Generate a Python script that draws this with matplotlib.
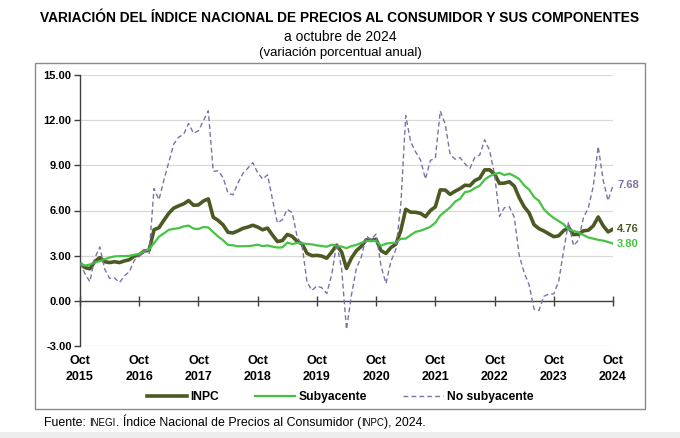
import matplotlib.pyplot as plt
from matplotlib.patches import Rectangle
from matplotlib.lines import Line2D
from matplotlib.offsetbox import TextArea, HPacker, AnchoredOffsetbox

plt.rcParams['font.family'] = ['Liberation Sans', 'DejaVu Sans']

# --- data: monthly annual % change, Oct 2015 .. Oct 2024 ---
years = ['2015', '2016', '2017', '2018', '2019', '2020', '2021', '2022', '2023', '2024']

inpc = [2.48, 2.21, 2.13,
        2.61, 2.87, 2.60, 2.54, 2.60, 2.54, 2.65, 2.73, 2.97, 3.06, 3.31, 3.36,
        4.72, 4.86, 5.35, 5.82, 6.16, 6.31, 6.44, 6.66, 6.35, 6.37, 6.63, 6.77,
        5.55, 5.34, 5.04, 4.55, 4.51, 4.65, 4.81, 4.90, 5.02, 4.90, 4.72, 4.83,
        4.37, 3.94, 4.00, 4.41, 4.28, 3.95, 3.78, 3.16, 3.00, 3.02, 2.97, 2.83,
        3.24, 3.70, 3.25, 2.15, 2.84, 3.33, 3.62, 4.05, 4.01, 4.09, 3.33, 3.15,
        3.54, 3.76, 4.67, 6.08, 5.89, 5.88, 5.81, 5.59, 6.00, 6.24, 7.37, 7.36,
        7.07, 7.28, 7.45, 7.68, 7.65, 7.99, 8.15, 8.70, 8.70, 8.41, 7.80, 7.82,
        7.91, 7.62, 6.85, 6.25, 5.84, 5.06, 4.79, 4.64, 4.45, 4.26, 4.32, 4.66,
        4.88, 4.40, 4.42, 4.65, 4.69, 4.98, 5.57, 4.99, 4.58, 4.76]

subyacente = [2.47, 2.34, 2.41,
              2.54, 2.64, 2.76, 2.88, 2.95, 2.97, 2.97, 2.99, 3.06, 3.10, 3.29, 3.44,
              3.83, 4.26, 4.48, 4.72, 4.78, 4.83, 4.94, 5.00, 4.80, 4.77, 4.90, 4.87,
              4.56, 4.27, 4.02, 3.71, 3.69, 3.62, 3.63, 3.63, 3.67, 3.73, 3.63, 3.68,
              3.60, 3.54, 3.55, 3.87, 3.77, 3.85, 3.82, 3.78, 3.75, 3.68, 3.65, 3.59,
              3.73, 3.66, 3.60, 3.50, 3.64, 3.71, 3.85, 3.97, 3.99, 3.98, 3.66, 3.80,
              3.84, 3.87, 4.12, 4.13, 4.37, 4.58, 4.66, 4.78, 4.92, 5.19, 5.67, 5.94,
              6.21, 6.59, 6.78, 7.22, 7.28, 7.49, 7.65, 8.05, 8.28, 8.42, 8.51, 8.35,
              8.45, 8.29, 8.09, 7.67, 7.39, 6.89, 6.64, 6.08, 5.76, 5.50, 5.30, 5.09,
              4.76, 4.64, 4.55, 4.37, 4.21, 4.13, 4.05, 4.00, 3.91, 3.80]

no_subyacente = [2.51, 1.81, 1.27,
                 2.83, 3.58, 2.11, 1.49, 1.52, 1.21, 1.66, 1.93, 2.69, 2.94, 3.37, 3.11,
                 7.46, 6.71, 8.03, 9.21, 10.41, 10.87, 11.06, 11.78, 11.13, 11.30, 11.96, 12.62,
                 8.60, 8.64, 8.18, 7.14, 7.04, 7.82, 8.45, 8.81, 9.18, 8.51, 8.08, 8.37,
                 6.74, 5.17, 5.39, 6.07, 5.85, 4.26, 3.66, 1.25, 0.69, 0.99, 0.87, 0.49,
                 1.73, 3.82, 2.17, -1.90, 0.37, 2.16, 2.91, 4.30, 4.07, 4.43, 2.31, 1.15,
                 2.62, 3.42, 6.37, 12.30, 10.57, 9.89, 9.35, 8.09, 9.33, 9.48, 12.61, 11.74,
                 9.72, 9.41, 9.52, 9.10, 8.79, 9.53, 9.69, 10.70, 9.99, 8.38, 5.61, 6.19,
                 6.25, 5.55, 3.03, 1.87, 1.06, -0.55, -0.64, 0.30, 0.45, 0.46, 1.30, 3.33,
                 5.25, 3.66, 4.02, 5.51, 6.17, 7.60, 10.25, 8.04, 6.65, 7.68]

months = list(range(len(inpc)))

c_inpc = '#4b5a23'
c_sub = '#45c443'
c_nosub = '#7f70a8'
c_axis = '#3f3f3f'

W, H = 680, 438
fig = plt.figure(figsize=(W / 100, H / 100), dpi=100)
ax = fig.add_axes([80 / W, 1 - 346 / H, 533 / W, 271 / H])

ax.plot(months, inpc, color=c_inpc, lw=2.6, solid_joinstyle='round', zorder=3)
ax.plot(months, subyacente, color=c_sub, lw=1.6, zorder=4)
ax.plot(months, no_subyacente, color=c_nosub, lw=1.0, dashes=(3.5, 2.2), zorder=5)

# y axis
ax.set_ylim(-3, 15)
yt = list(range(-3, 16, 3))
ax.set_yticks(yt)
ax.set_yticklabels([f'{v:.2f}' for v in yt], fontweight='bold')
ax.tick_params(axis='y', direction='out', length=4, width=1, color=c_axis,
               labelsize=8, pad=2)
ax.grid(axis='y', color='#d9d9d9', lw=0.9)
ax.set_axisbelow(True)

# x axis line at zero, labels at the bottom
ax.set_xlim(0, len(inpc) - 1)
xt = list(range(0, len(inpc), 12))
ax.set_xticks(xt)
ax.tick_params(axis='x', direction='inout', length=7, width=1, color=c_axis,
               labelbottom=False)
ax.spines['bottom'].set_position(('data', 0))
for s in ['top', 'right']:
    ax.spines[s].set_visible(False)
for s in ['left', 'bottom']:
    ax.spines[s].set_color(c_axis)
    ax.spines[s].set_linewidth(1)

for m, yr in zip(xt, years):
    ax.text(m, -0.035, f'Oct\n{yr}', transform=ax.get_xaxis_transform(),
            ha='center', va='top', fontsize=9, fontweight='bold', linespacing=1.4)

# end labels
for series, col in [(no_subyacente, c_nosub), (inpc, c_inpc), (subyacente, c_sub)]:
    ax.annotate(f'{series[-1]:.2f}', xy=(months[-1], series[-1]), xytext=(3, 0),
                textcoords='offset points', va='center', ha='left', fontsize=8,
                fontweight='bold', color=col, annotation_clip=False)

# legend
handles = [Line2D([], [], color=c_inpc, lw=2.6),
           Line2D([], [], color=c_sub, lw=1.6),
           Line2D([], [], color=c_nosub, lw=1.0, dashes=(3.5, 2.2))]
fig.legend(handles, ['INPC', 'Subyacente', 'No subyacente'], loc='center',
           bbox_to_anchor=(0.5, 1 - 397 / H), ncol=3, frameon=False,
           handlelength=3.3, handletextpad=0.3, columnspacing=3.0,
           prop={'weight': 'bold', 'size': 8.7})

# frame and bottom band
fig.add_artist(Rectangle((35 / W, 1 - 409 / H), 610 / W, 346 / H, transform=fig.transFigure,
                         fill=False, ec='#8a8a8a', lw=1))
fig.add_artist(Rectangle((0, 0), 1, 6 / H, transform=fig.transFigure,
                         color='#ededed', lw=0))

# titles
fig.text(0.5, 1 - 18 / H,
         'VARIACIÓN DEL ÍNDICE NACIONAL DE PRECIOS AL CONSUMIDOR Y SUS COMPONENTES',
         ha='center', va='center', fontsize=9.9, fontweight='bold')
fig.text(0.5, 1 - 37 / H, 'a octubre de 2024', ha='center', va='center', fontsize=10)
fig.text(0.5, 1 - 53 / H, '(variación porcentual anual)', ha='center', va='center',
         fontsize=9.5)

# source line, INEGI / INPC in small caps
pieces = [('Fuente: ', 8.9), ('INEGI', 7.0), ('. Índice Nacional de Precios al Consumidor (', 8.9),
          ('INPC', 7.0), ('), 2024.', 8.9)]
row = HPacker(children=[TextArea(t, textprops=dict(size=s)) for t, s in pieces],
              align='baseline', pad=0, sep=0)
src = AnchoredOffsetbox(loc='lower left', child=row, pad=0, borderpad=0, frameon=False,
                        bbox_to_anchor=(44 / W, 1 - 429 / H), bbox_transform=fig.transFigure)
fig.add_artist(src)

fig.savefig('out.png', dpi=100)
